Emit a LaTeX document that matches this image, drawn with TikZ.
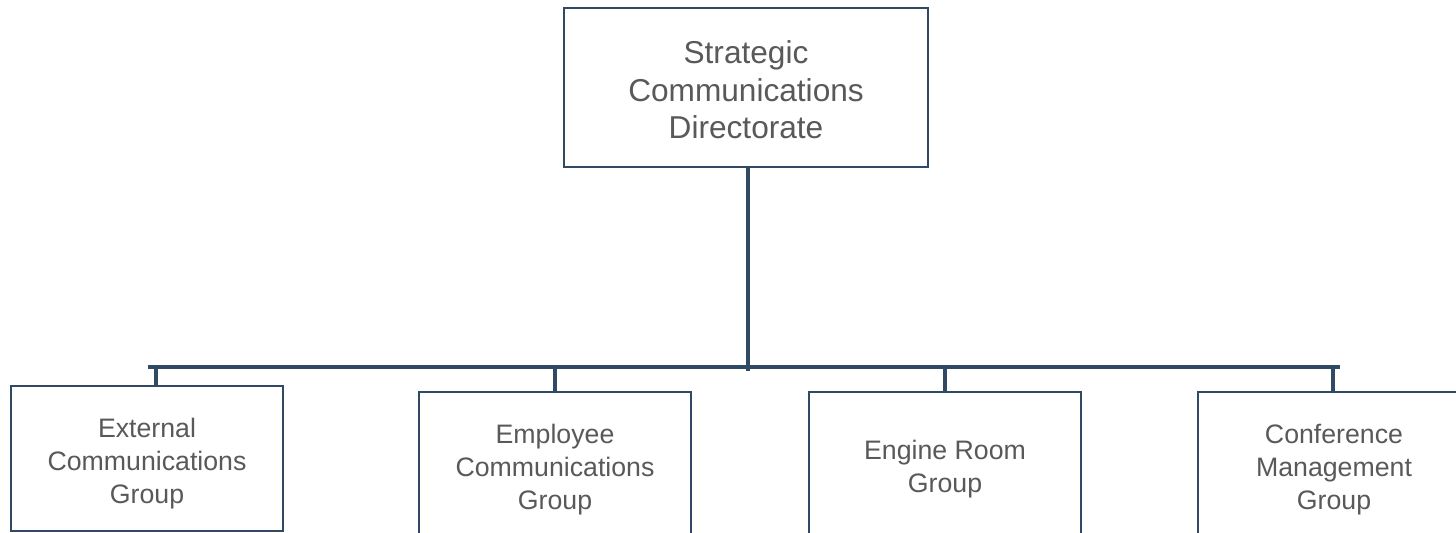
\documentclass[tikz,border=0pt]{standalone}
\usepackage{fontspec}
\setmainfont{Liberation Sans}
\usepackage{xcolor}
\usepackage{tikz}
\usetikzlibrary{positioning,calc}
\definecolor{linecol}{HTML}{2F4A62}
\definecolor{textcol}{HTML}{595959}

\begin{document}
\begin{tikzpicture}[x=0.02cm, y=-0.02cm,
    unit/.style={draw=linecol, line width=1.1pt, fill=white,
        minimum width=5.44cm, minimum height=2.9cm, inner sep=0pt},
    caption/.style={text=textcol, align=center, inner sep=0pt,
        font=\fontsize{15.2}{18.8}\selectfont},
    link/.style={draw=linecol, line width=2.3pt}]
    \clip (0,0) rectangle (1456,533);

    \node[unit, minimum width=7.28cm, minimum height=3.18cm] (dir) at (746,87.5) {};
    \node[caption, font=\fontsize{18}{21.3}\selectfont] (dirT) at (746,90)
        {Strategic\\Communications\\Directorate};

    \node[unit] (ext) at (147,458.5) {};
    \node[unit] (emp) at (555,464.5) {};
    \node[unit] (eng) at (945,464.5) {};
    \node[unit] (conf) at (1334,464.5) {};

    \node[caption] (extT) at (147,464) {External\\Communications\\Group};
    \node[caption] (empT) at (555,469.5) {Employee\\Communications\\Group};
    \node[caption] (engT) at (945,469.5) {Engine Room\\Group};
    \node[caption] (confT) at (1334,469.5) {Conference\\Management\\Group};

    \coordinate (barL) at (148,367);
    \coordinate (barR) at (1340,367);
    \coordinate (join) at (748,371);
    \coordinate (d1) at (156,367);
    \coordinate (d2) at (555,367);
    \coordinate (d3) at (945,367);
    \coordinate (d4) at (1333,367);

    \draw[link] (dir.south -| join) -- (join);
    \draw[link] (barL) -- (barR);
    \draw[link] (d1) -- (d1 |- ext.north);
    \draw[link] (d2) -- (emp.north);
    \draw[link] (d3) -- (eng.north);
    \draw[link] (d4) -- (d4 |- conf.north);
\end{tikzpicture}
\end{document}
